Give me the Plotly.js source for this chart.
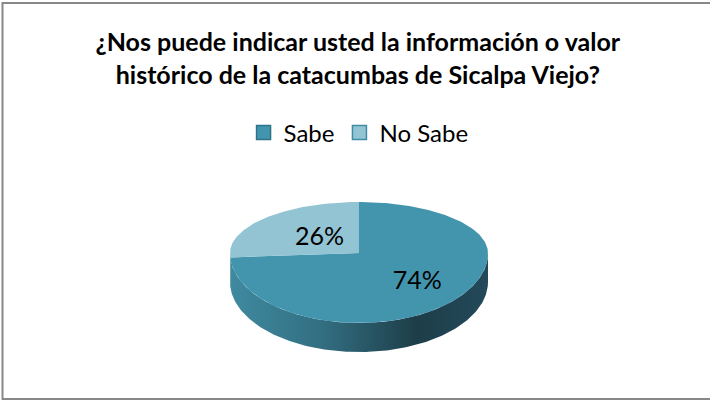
<!DOCTYPE html>
<html>
<head>
<meta charset="utf-8">
<script src="https://cdn.plot.ly/plotly-3.0.1.min.js"></script>
<style>html,body{margin:0;padding:0;background:#fff;}#chart{width:710px;height:401px;}</style>
</head>
<body>
<div id="chart"></div>
<script>
// ---- data ----
const categories = ["Sabe", "No Sabe"];
const values = [74, 26];
const topColors = ["#4395ae", "#93c4d4"];
const legendBorders = ["#2c7489", "#3f8ca3"];
const titleText = "¿Nos puede indicar usted la información o valor<br>histórico de la catacumbas de Sicalpa Viejo?";

// ---- pseudo-3D geometry (pixel space via hidden axes) ----
const W = 710, H = 401;
const CX = 359, CY = 253, RX = 129, RYB = 51, RYF = 70, DEPTH = 29;
const FONT = "Lato, 'Liberation Sans', sans-serif";

function pt(thetaDeg, dy) {
  const t = thetaDeg * Math.PI / 180;
  const c = Math.cos(t);
  const ry = c > 0 ? RYB : RYF;
  return [CX + RX * Math.sin(t), CY - ry * c + dy];
}
function arc(a0, a1, dy) {
  const pts = [];
  const n = Math.max(2, Math.ceil(Math.abs(a1 - a0)));
  for (let i = 0; i <= n; i++) pts.push(pt(a0 + (a1 - a0) * i / n, dy));
  return pts;
}

const total = values.reduce((a, b) => a + b, 0);
const angles = [];
let acc = 0;
values.forEach(v => { const a0 = acc / total * 360; acc += v; angles.push([a0, acc / total * 360]); });

const traces = [];
// sides (front half only: 90..270 degrees)
angles.forEach((ang, i) => {
  const s = Math.max(ang[0], 90), e = Math.min(ang[1], 270);
  if (e <= s) return;
  const top = arc(s, e, 0);
  const bot = arc(e, s, DEPTH);
  const poly = top.concat(bot);
  poly.push(poly[0]);
  traces.push({
    type: "scatter", mode: "lines", x: poly.map(p => p[0]), y: poly.map(p => p[1]),
    fill: "toself", line: {width: 0}, showlegend: false, hoverinfo: "skip",
    fillcolor: i === 0 ? undefined : "#6f9fb0",
    fillgradient: i === 0 ? {type: "horizontal",
      colorscale: [[0, "#3f8aa0"], [0.35, "#336f82"], [0.72, "#1d3e49"], [1, "#23495a"]]} : undefined
  });
});
// top faces
angles.forEach((ang, i) => {
  const poly = [[CX, CY]].concat(arc(ang[0], ang[1], 0));
  poly.push([CX, CY]);
  traces.push({
    type: "scatter", mode: "lines", x: poly.map(p => p[0]), y: poly.map(p => p[1]),
    fill: "toself", fillcolor: topColors[i], line: {width: 0},
    showlegend: false, hoverinfo: "skip"
  });
});
// percent labels
const labelFrac = [0.62, 0.42];
traces.push({
  type: "scatter", mode: "text",
  x: angles.map((a, i) => CX + labelFrac[i] * RX * Math.sin((a[0] + a[1]) / 2 * Math.PI / 180)),
  y: angles.map((a, i) => {
    const c = Math.cos((a[0] + a[1]) / 2 * Math.PI / 180);
    return CY - labelFrac[i] * (c > 0 ? RYB : RYF) * c;
  }),
  text: values.map(v => Math.round(v / total * 100) + "%"),
  textposition: "middle center",
  textfont: {family: FONT, size: 25, color: "#000"},
  showlegend: false, hoverinfo: "skip"
});
// legend entries
categories.forEach((c, i) => {
  traces.push({
    type: "scatter", mode: "markers", x: [null], y: [null], name: c,
    marker: {symbol: "square", size: 14, color: topColors[i], line: {color: legendBorders[i], width: 1.5}}
  });
});

const layout = {
  width: W, height: H,
  margin: {l: 0, r: 0, t: 0, b: 0},
  paper_bgcolor: "#fff", plot_bgcolor: "#fff",
  title: {text: titleText, font: {family: FONT, size: 25, color: "#000", weight: "bold"},
          x: 0.504, xanchor: "center", y: 0.872, yanchor: "top", yref: "container"},
  xaxis: {range: [0, W], visible: false, fixedrange: true},
  yaxis: {range: [H, 0], visible: false, fixedrange: true},
  showlegend: true,
  legend: {orientation: "h", x: 0.505, xanchor: "center", y: 1 - 133 / H, yanchor: "middle",
           font: {family: FONT, size: 24, color: "#000"}, itemwidth: 30, bgcolor: "rgba(0,0,0,0)"},
  shapes: [{type: "rect", xref: "x", yref: "y", x0: 2.5, x1: 715, y0: 3, y1: 399,
            line: {color: "#888", width: 2}}]
};

Plotly.newPlot("chart", traces, layout, {staticPlot: true});
</script>
</body>
</html>
